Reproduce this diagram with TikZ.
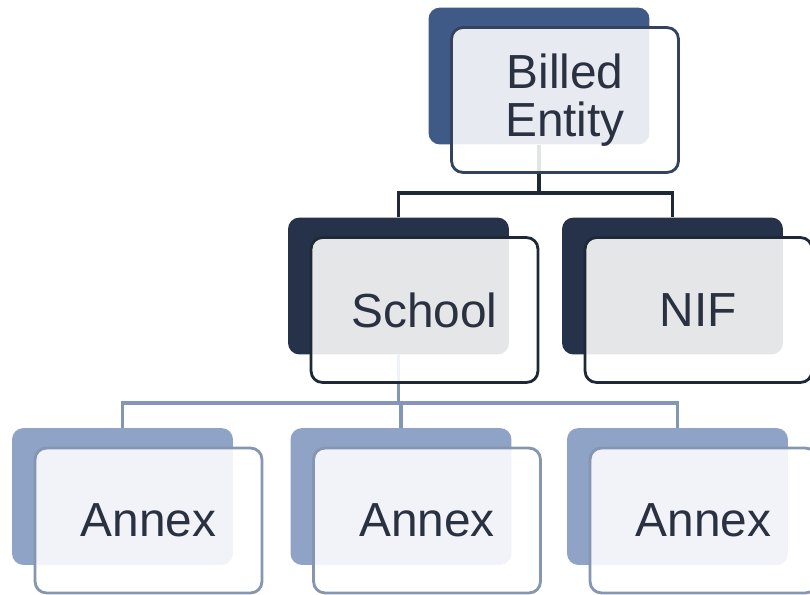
\documentclass[tikz,border=0pt]{standalone}
\usepackage{fontspec}
\setmainfont{Liberation Sans}
\usetikzlibrary{backgrounds}
\definecolor{topblue}{HTML}{3F5A87}
\definecolor{midnavy}{HTML}{25324A}
\definecolor{lowblue}{HTML}{8EA3C6}
\definecolor{topline}{HTML}{33435C}
\definecolor{midline}{HTML}{1E2837}
\definecolor{lowline}{HTML}{8595B2}
\definecolor{labelgray}{HTML}{2A3140}
\tikzset{
  backbox/.style={rectangle, rounded corners=8pt, minimum width=5.52cm, minimum height=3.42cm, inner sep=0pt},
  frontbox/.style={rectangle, rounded corners=8pt, minimum width=5.67cm, minimum height=3.62cm, inner sep=0pt,
    fill=white, fill opacity=0.88, text opacity=1, text=labelgray, align=center,
    font=\fontsize{34}{34}\selectfont},
  toplink/.style={draw=midline, line width=2.2pt},
  lowlink/.style={draw=lowblue!92!black, line width=2.2pt}
}
% #1 name, #2 #3 centre of the back card, #4 card colour, #5 rim colour, #6 text
\newcommand{\orgcard}[6]{
  \node[backbox, fill=#4] (#1back) at (#2,#3) {};
  \node[frontbox, draw=#5, line width=2pt] (#1) at (#2+26,#3+24) {#6};
}

\begin{document}
\begin{tikzpicture}[x=0.025cm,y=-0.025cm]
    \useasboundingbox (0,0) rectangle (810,594);
    \orgcard{billed}{539}{76}{topblue}{topline}{Billed\\Entity}
    \orgcard{school}{398.5}{286}{midnavy}{midline}{School}
    \orgcard{nif}{672.5}{286}{midnavy}{midline}{NIF}
    \orgcard{annexa}{122.5}{496.5}{lowblue}{lowline}{Annex}
    \orgcard{annexb}{401}{496.5}{lowblue}{lowline}{Annex}
    \orgcard{annexc}{677.5}{496.5}{lowblue}{lowline}{Annex}
    \coordinate (topbar) at (539,193);
    \coordinate (lowbar) at (398.5,403);
    \begin{pgfonlayer}{background}
    \draw[toplink] (billedback.south) -- (topbar);
    \draw[toplink] (schoolback.north) |- (topbar) -| (nifback.north);
    \draw[lowlink] (schoolback.south) -- (lowbar);
    \draw[lowlink] (annexaback.north) |- (lowbar) -| (annexcback.north);
    \draw[lowlink] (annexbback.north) -- (annexbback.north |- lowbar);
    \end{pgfonlayer}
\end{tikzpicture}
\end{document}
